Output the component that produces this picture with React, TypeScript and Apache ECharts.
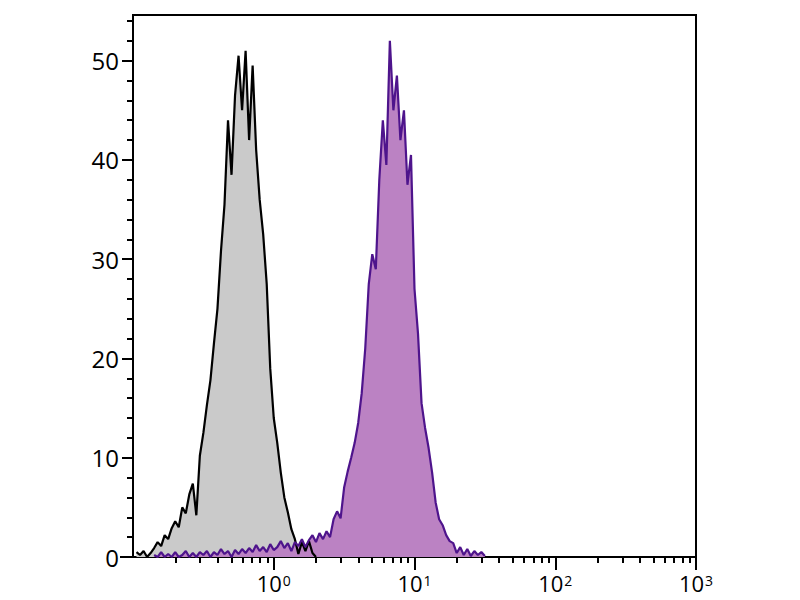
import { useEffect, useRef } from 'react';
import * as echarts from 'echarts';

// bin centres (log scale, 40 bins per decade), 0.106 .. 31.6
const binCenters = [
  0.1059, 0.1122, 0.1189, 0.1259, 0.1334, 0.1413, 0.1496, 0.1585, 0.1679, 0.1778,
  0.1884, 0.1995, 0.2113, 0.2239, 0.2371, 0.2512, 0.2661, 0.2818, 0.2985, 0.3162,
  0.335, 0.3548, 0.3758, 0.3981, 0.4217, 0.4467, 0.4732, 0.5012, 0.5309, 0.5623,
  0.5957, 0.631, 0.6683, 0.7079, 0.7499, 0.7943, 0.8414, 0.8913, 0.9441, 1.0,
  1.059, 1.122, 1.189, 1.259, 1.334, 1.413, 1.496, 1.585, 1.679, 1.778,
  1.884, 1.995, 2.113, 2.239, 2.371, 2.512, 2.661, 2.818, 2.985, 3.162,
  3.35, 3.548, 3.758, 3.981, 4.217, 4.467, 4.732, 5.012, 5.309, 5.623,
  5.957, 6.31, 6.683, 7.079, 7.499, 7.943, 8.414, 8.913, 9.441, 10.0,
  10.59, 11.22, 11.89, 12.59, 13.34, 14.13, 14.96, 15.85, 16.79, 17.78,
  18.84, 19.95, 21.13, 22.39, 23.71, 25.12, 26.61, 28.18, 29.85, 31.62,
];

// isotype control (grey), starts at first bin
const isotypeCounts = [
  0.5, 0.2, 0.6, 0, 0.4, 0.9, 1.5, 1.1, 2.2, 1.8,
  2.9, 3.6, 3.0, 5.0, 4.4, 6.3, 7.4, 4.2, 10.2, 12.5,
  15.3, 17.8, 21.5, 25.0, 30.8, 35.5, 44.0, 38.5, 46.5, 50.5,
  45.0, 51.0, 42.0, 49.5, 41.0, 36.0, 32.5, 27.5, 19.0, 14.0,
  11.5, 8.5, 6.0, 4.5, 2.8, 1.8, 0.3, 1.5, 0.6, 1.6, 0.4, 0,
];

// stained sample (purple), null = no events drawn
const stainedCounts = [
  null, null, null, null, null,
  0.2, 0, 0.5, 0, 0.3, 0, 0.5, 0, 0.2, 0.6,
  0, 0.4, 0, 0.5, 0.2, 0.6, 0, 0.5, 0.2, 0.8,
  0.3, 0.6, 0, 0.7, 0.3, 0.8, 0.4, 0.9, 0.5, 1.2,
  0.6, 1.0, 0.5, 1.3, 0.7, 1.0, 1.6, 0.9, 1.4, 0.6,
  1.5, 1.1, 1.8, 1.0, 1.7, 2.2, 1.5, 2.4, 1.8, 2.6,
  2.0, 3.8, 4.6, 3.9, 7.0, 8.6, 10.0, 11.5, 13.5, 16.5,
  21.0, 27.5, 30.5, 29.0, 38.0, 44.0, 39.5, 52.0, 45.0, 48.5,
  42.0, 45.0, 37.5, 40.5, 27.0, 22.5, 15.5, 13.0, 11.0, 8.5,
  5.5, 3.8, 3.2, 2.2, 1.6, 1.4, 0.4, 1.0, 0.2, 0.8,
  0.1, 0.6, 0.2, 0.5, 0.1,
];

const yMajorTicks = [0, 10, 20, 30, 40, 50];
const yMinorTicks = [2, 4, 6, 8, 12, 14, 16, 18, 22, 24, 26, 28, 32, 34, 36, 38, 42, 44, 46, 48, 52, 54];
const xMajorTicks = [1, 10, 100, 1000];
const xMinorTicks = [
  0.2, 0.3, 0.4, 0.5, 0.6, 0.7, 0.8, 0.9,
  2, 3, 4, 5, 6, 7, 8, 9,
  20, 30, 40, 50, 60, 70, 80, 90,
  200, 300, 400, 500, 600, 700, 800, 900,
];

const FONT = "'Open Sans', 'Liberation Sans', sans-serif";

export default function App() {
  const ref = useRef<HTMLDivElement>(null);

  useEffect(() => {
    document.body.style.margin = '0';
    if (!ref.current) return;
    const chart = echarts.init(ref.current, undefined, { renderer: 'svg' });

    const isoData = isotypeCounts.map((c, i) => [binCenters[i], c]);
    const stainData = stainedCounts
      .map((c, i) => (c == null ? null : [binCenters[i], c]))
      .filter((d) => d != null);

    const axisLine = { show: true, lineStyle: { color: '#000', width: 2 } };
    const tickStyle = { color: '#000', width: 2 };

    chart.setOption({
      animation: false,
      textStyle: { fontFamily: FONT },
      grid: {
        left: 133, right: 104, top: 15, bottom: 43,
        show: true, borderColor: '#000', borderWidth: 2, backgroundColor: 'transparent',
      },
      xAxis: [
        {
          type: 'log', logBase: 10, min: 0.1, max: 1000,
          axisLine,
          axisTick: { show: true, length: 13, lineStyle: tickStyle, customValues: xMajorTicks },
          axisLabel: {
            customValues: xMajorTicks,
            margin: 16,
            color: '#000',
            formatter: (v: number) => `{b|10}{s|${Math.round(Math.log10(v))}}`,
            rich: {
              b: { fontSize: 22, lineHeight: 20, fontFamily: FONT, color: '#000' },
              s: { fontSize: 14, lineHeight: 14, fontFamily: FONT, color: '#000', verticalAlign: 'top', padding: [0, 0, 0, 1] },
            },
          },
          splitLine: { show: false },
        },
        {
          type: 'log', logBase: 10, min: 0.1, max: 1000, position: 'bottom',
          axisLine: { show: false },
          axisTick: { show: true, length: 6, lineStyle: tickStyle, customValues: xMinorTicks },
          axisLabel: { show: false },
          splitLine: { show: false },
        },
      ],
      yAxis: [
        {
          type: 'value', min: 0, max: 54.6,
          axisLine,
          axisTick: { show: true, length: 11, lineStyle: tickStyle, customValues: yMajorTicks },
          axisLabel: { customValues: yMajorTicks, margin: 14, fontSize: 24, color: '#000', fontFamily: FONT },
          splitLine: { show: false },
        },
        {
          type: 'value', min: 0, max: 54.6, position: 'left',
          axisLine: { show: false },
          axisTick: { show: true, length: 6, lineStyle: tickStyle, customValues: yMinorTicks },
          axisLabel: { show: false },
          splitLine: { show: false },
        },
      ],
      graphic: [
        {
          type: 'line',
          shape: { x1: 120, y1: 557, x2: 134, y2: 557 },
          style: { stroke: '#000', lineWidth: 2 },
        },
      ],
      series: [
        {
          name: 'Isotype',
          type: 'line',
          data: isoData,
          symbol: 'none',
          lineStyle: { color: '#000', width: 2.2 },
          areaStyle: { color: '#cacaca', opacity: 1 },
        },
        {
          name: 'Stained',
          type: 'line',
          data: stainData,
          symbol: 'none',
          lineStyle: { color: '#4e148c', width: 2.2 },
          areaStyle: { color: '#bb82c3', opacity: 1 },
        },
      ],
    });

    return () => chart.dispose();
  }, []);

  return <div ref={ref} style={{ width: 800, height: 600 }} />;
}
